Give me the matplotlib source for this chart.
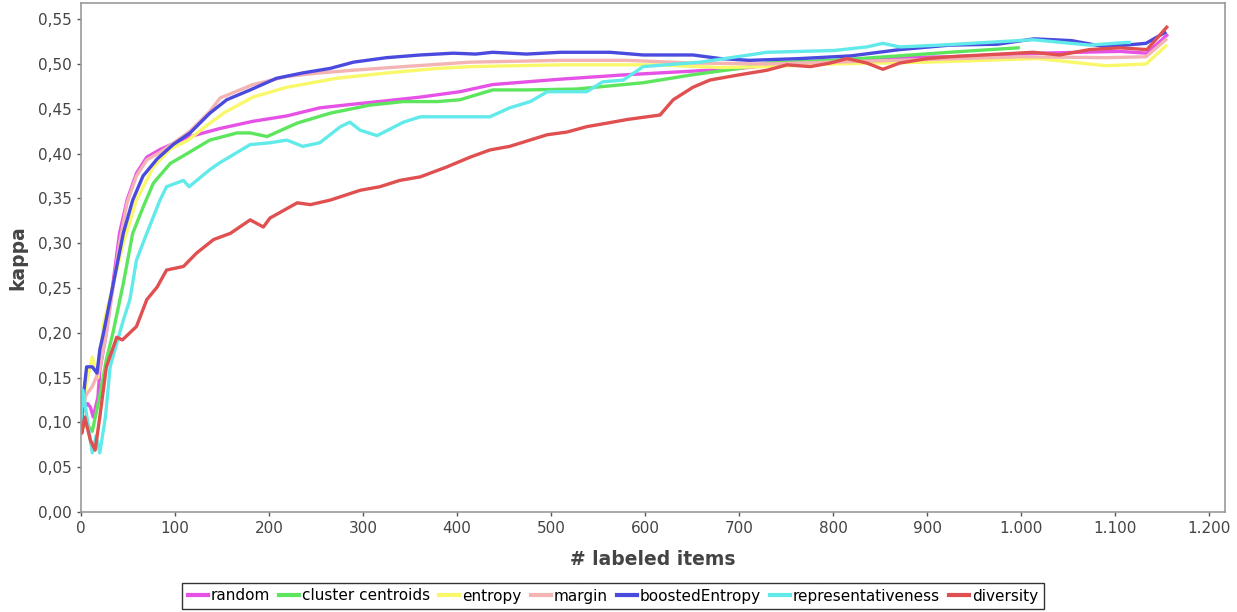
import matplotlib
matplotlib.use("Agg")
import matplotlib.pyplot as plt
from matplotlib.ticker import FuncFormatter

# ---------------- data ----------------
series_names = ["random", "cluster centroids", "entropy", "margin",
                "boostedEntropy", "representativeness", "diversity"]

random_x = [0, 2, 7, 10, 13, 18, 20, 27, 34, 41, 49, 59, 70, 85, 100, 116, 148, 183, 219, 254, 289,
            326, 361, 403, 438, 510, 581, 651, 700, 765, 871, 924, 1020, 1105, 1134, 1155]
random_y = [0.10, 0.114, 0.121, 0.117, 0.106, 0.128, 0.158, 0.20, 0.255, 0.311, 0.348, 0.378, 0.396,
            0.405, 0.412, 0.419, 0.428, 0.436, 0.442, 0.451, 0.455, 0.459, 0.463, 0.469, 0.477,
            0.483, 0.488, 0.492, 0.495, 0.502, 0.507, 0.508, 0.512, 0.514, 0.512, 0.532]

cluster_x = [0, 5, 12, 20, 27, 34, 45, 55, 66, 77, 95, 113, 137, 166, 180, 198, 230, 265, 307,
             343, 379, 403, 438, 474, 527, 598, 651, 700, 730, 801, 924, 997]
cluster_y = [0.09, 0.10, 0.09, 0.13, 0.17, 0.20, 0.255, 0.311, 0.34, 0.367, 0.389, 0.40, 0.415,
             0.423, 0.423, 0.419, 0.434, 0.445, 0.454, 0.458, 0.458, 0.46, 0.471, 0.471, 0.472,
             0.479, 0.488, 0.495, 0.501, 0.504, 0.513, 0.518]

entropy_x = [0, 5, 12, 18, 24, 31, 38, 45, 59, 77, 95, 114, 132, 153, 183, 219, 272, 326, 379,
             414, 510, 616, 680, 730, 800, 900, 1018, 1090, 1133, 1154]
entropy_y = [0.11, 0.14, 0.173, 0.15, 0.21, 0.24, 0.27, 0.30, 0.348, 0.385, 0.405, 0.415, 0.43,
             0.446, 0.463, 0.474, 0.484, 0.49, 0.495, 0.497, 0.499, 0.499, 0.496, 0.497, 0.50,
             0.502, 0.506, 0.498, 0.50, 0.52]

margin_x = [0, 5, 12, 20, 27, 34, 41, 49, 59, 70, 85, 100, 116, 137, 148, 183, 219, 254, 290,
            343, 414, 510, 581, 651, 730, 800, 900, 1000, 1090, 1133, 1154]
margin_y = [0.10, 0.13, 0.14, 0.16, 0.20, 0.25, 0.30, 0.345, 0.375, 0.393, 0.402, 0.413, 0.425,
            0.447, 0.462, 0.477, 0.486, 0.49, 0.493, 0.497, 0.502, 0.504, 0.504, 0.501, 0.50,
            0.502, 0.505, 0.508, 0.507, 0.508, 0.527]

boosted_x = [0, 2, 6, 12, 17, 20, 24, 31, 38, 45, 55, 66, 81, 98, 116, 137, 155, 180, 208, 236,
             265, 290, 325, 361, 396, 420, 438, 474, 510, 563, 598, 651, 680, 711, 765, 819, 871,
             924, 975, 1014, 1054, 1090, 1133, 1153]
boosted_y = [0.09, 0.125, 0.162, 0.162, 0.155, 0.181, 0.20, 0.237, 0.274, 0.311, 0.348, 0.375,
             0.394, 0.41, 0.423, 0.445, 0.46, 0.471, 0.484, 0.49, 0.495, 0.502, 0.507, 0.51,
             0.512, 0.511, 0.513, 0.511, 0.513, 0.513, 0.51, 0.51, 0.506, 0.504, 0.506, 0.509,
             0.516, 0.521, 0.522, 0.528, 0.526, 0.519, 0.523, 0.535]

repr_x = [0, 2, 12, 16, 20, 26, 31, 38, 45, 52, 59, 70, 84, 91, 109, 115, 137, 148, 180, 201,
          219, 236, 254, 276, 286, 297, 315, 343, 361, 414, 435, 456, 478, 496, 538, 555, 577,
          598, 659, 730, 801, 836, 853, 871, 914, 1013, 1073, 1112, 1115]
repr_y = [0.10, 0.136, 0.066, 0.085, 0.066, 0.106, 0.162, 0.188, 0.214, 0.237, 0.281, 0.311,
          0.348, 0.363, 0.37, 0.363, 0.382, 0.39, 0.41, 0.412, 0.415, 0.408, 0.412, 0.43, 0.435,
          0.426, 0.42, 0.435, 0.441, 0.441, 0.441, 0.451, 0.458, 0.469, 0.469, 0.48, 0.482,
          0.497, 0.502, 0.513, 0.515, 0.519, 0.523, 0.519, 0.521, 0.527, 0.521, 0.524, 0.524]

diversity_x = [0, 1, 4, 10, 15, 20, 27, 38, 44, 59, 70, 81, 91, 109, 123, 141, 159, 180, 194,
               201, 230, 244, 265, 297, 318, 339, 361, 389, 414, 435, 456, 496, 517, 538, 560,
               581, 616, 630, 651, 669, 701, 730, 751, 776, 797, 815, 836, 853, 871, 900, 924,
               1013, 1041, 1073, 1105, 1134, 1155]
diversity_y = [0.09, 0.088, 0.106, 0.080, 0.069, 0.106, 0.162, 0.195, 0.192, 0.207, 0.237,
               0.251, 0.27, 0.274, 0.289, 0.304, 0.311, 0.326, 0.318, 0.328, 0.345, 0.343,
               0.348, 0.359, 0.363, 0.37, 0.374, 0.385, 0.396, 0.404, 0.408, 0.421, 0.424,
               0.43, 0.434, 0.438, 0.443, 0.46, 0.474, 0.482, 0.488, 0.493, 0.499, 0.497,
               0.501, 0.506, 0.501, 0.494, 0.501, 0.506, 0.508, 0.513, 0.51, 0.516, 0.518,
               0.516, 0.541]

series_x = [random_x, cluster_x, entropy_x, margin_x, boosted_x, repr_x, diversity_x]
series_y = [random_y, cluster_y, entropy_y, margin_y, boosted_y, repr_y, diversity_y]
colors = ["#E652E6", "#5DE65D", "#F8F86A", "#F4B4B4", "#4A4ADE", "#62EAEA", "#E05050"]

x_ticks = list(range(0, 1201, 100))
y_ticks = [i * 0.05 for i in range(12)]

# ---------------- figure ----------------
plt.rcParams['font.family'] = ['DejaVu Sans']
fig = plt.figure(figsize=(12.37, 6.12), dpi=100)
ax = fig.add_axes([81 / 1237, 100 / 612, (1225 - 81) / 1237, (509) / 612])

for name, xs, ys, c in zip(series_names, series_x, series_y, colors):
    ax.plot(xs, ys, color=c, lw=2.4, label=name, solid_joinstyle='round')

ax.set_xlim(0, 1217)
ax.set_ylim(0, 0.568)
ax.set_xticks(x_ticks)
ax.set_yticks(y_ticks)
ax.xaxis.set_major_formatter(FuncFormatter(lambda v, p: f"{int(round(v)):,}".replace(",", ".")))
ax.yaxis.set_major_formatter(FuncFormatter(lambda v, p: f"{v:.2f}".replace(".", ",")))
ax.tick_params(axis='both', labelsize=11, colors='#555555', labelcolor='#444444',
               length=3, width=1, direction='out')

for s in ax.spines.values():
    s.set_color('#999999')
    s.set_linewidth(1.2)

ax.set_xlabel("# labeled items", fontsize=13.5, fontweight='bold', color='#444444', labelpad=10)
ax.set_ylabel("kappa", fontsize=13.5, fontweight='bold', color='#444444', labelpad=8)

leg = fig.legend(loc='center', bbox_to_anchor=(613 / 1237, 1 - 596 / 612), ncol=7,
                 fontsize=11, frameon=True, fancybox=False, handlelength=1.3,
                 handletextpad=0.2, columnspacing=0.6, borderpad=0.35)
leg.get_frame().set_edgecolor('black')
leg.get_frame().set_linewidth(1.0)
for h in leg.get_lines():
    h.set_linewidth(3)

fig.savefig("out.png", dpi=100)
